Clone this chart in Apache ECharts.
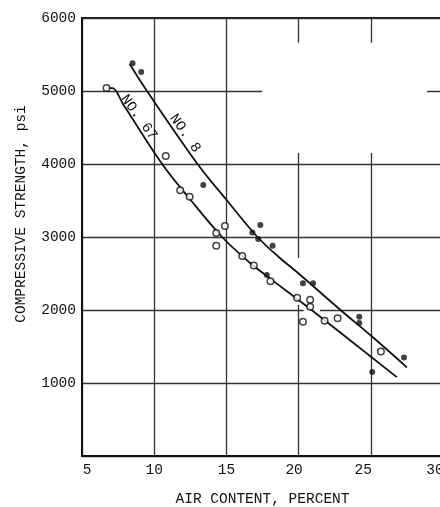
<!DOCTYPE html>
<html><head><meta charset="utf-8">
<script src="https://cdn.jsdelivr.net/npm/echarts@6/dist/echarts.min.js"></script>
<style>html,body{margin:0;padding:0;background:#fff}#c{width:440px;height:507px}</style>
</head><body><div id="c"></div>
<script>
// ---- data ----
const xTicks = [5, 10, 15, 20, 25, 30];
const yTicks = [0, 1000, 2000, 3000, 4000, 5000, 6000];
const xTitle = 'AIR CONTENT, PERCENT';
const yTitle = 'COMPRESSIVE STRENGTH, psi';
const curveNames = ['NO. 8', 'NO. 67'];

// open circles
const openX = [6.7, 10.8, 11.8, 12.45, 14.9, 14.3, 14.3, 16.1, 16.9, 18.05, 19.9, 20.8, 20.8, 20.3, 21.8, 22.7, 25.7];
const openY = [5040, 4110, 3640, 3550, 3150, 3055, 2880, 2740, 2610, 2395, 2168, 2140, 2045, 1840, 1852, 1888, 1430];
// filled dots
const filledX = [8.5, 9.1, 13.4, 17.35, 16.8, 17.2, 18.2, 17.8, 20.3, 21.0, 24.2, 24.2, 25.1, 27.3];
const filledY = [5380, 5260, 3714, 3166, 3062, 2972, 2880, 2480, 2368, 2368, 1908, 1822, 1152, 1348];

// fitted curves
const no8X = [8.3, 9.5, 13.0, 15.0, 17.15, 18.6, 20.0, 22.9, 25.0, 27.5];
const no8Y = [5370, 5000, 4000, 3510, 3000, 2730, 2500, 2000, 1650, 1215];
const no67X = [6.7, 7.1, 7.85, 10.55, 12.47, 14.7, 16.6, 17.9, 20.9, 26.8];
const no67Y = [5040, 5040, 4820, 4000, 3520, 3000, 2650, 2450, 2000, 1080];

const noteLines = ['COMPACTION', '-- 5 TAMP', '-- C 31', 'PERCENT SAND', '0, 10, 20'];

// ---- styling ----
const FONT = 'Liberation Mono';
const FS = 14.5;
const INK = '#111';
const GRIDC = '#333';

const zip = (a, b) => a.map((v, i) => [v, b[i]]);

const labelShift = {5: [0,0,0,10], 20: [0,9,0,0], 25: [0,15,0,0], 30: [0,16,0,0]};
const rich = {};
xTicks.forEach(v => {
  rich['t' + v] = {fontFamily: FONT, fontSize: FS, color: INK, padding: labelShift[v] || [0,0,0,0]};
});

const chart = echarts.init(document.getElementById('c'), null, {renderer: 'canvas'});

const noteX = [287, 296.5, 296.5, 287, 287];
const noteYs = [64.5, 79.3, 94, 123.3, 137.5];

chart.setOption({
  animation: false,
  backgroundColor: '#fff',
  grid: {left: 82, top: 18, width: 361, height: 438, containLabel: false, outerBoundsMode: 'none',
         show: true, borderColor: INK, borderWidth: 2, backgroundColor: 'transparent'},
  xAxis: {
    type: 'value', min: xTicks[0], max: xTicks[xTicks.length - 1], interval: 5,
    axisLine: {lineStyle: {color: INK, width: 2}},
    axisTick: {show: false},
    splitLine: {show: true, lineStyle: {color: GRIDC, width: 1.3}},
    axisLabel: {margin: 7, formatter: v => '{t' + v + '|' + v + '}', rich: rich, fontFamily: FONT, fontSize: FS, color: INK},
    name: xTitle, nameLocation: 'middle', nameGap: 36,
    nameTextStyle: {fontFamily: FONT, fontSize: FS, color: INK}
  },
  yAxis: {
    type: 'value', min: yTicks[0], max: yTicks[yTicks.length - 1], interval: 1000,
    axisLine: {lineStyle: {color: INK, width: 2}},
    axisTick: {show: false},
    splitLine: {show: true, lineStyle: {color: GRIDC, width: 1.3}},
    axisLabel: {margin: 6, showMinLabel: false, formatter: v => String(v), fontFamily: FONT, fontSize: FS, color: INK}
  },
  graphic: [
    {type: 'text', x: 21, y: 214, rotation: Math.PI / 2,
     style: {text: yTitle, fontFamily: FONT, fontSize: FS, fill: INK, align: 'center', verticalAlign: 'middle'}}
  ].concat(noteLines.map((t, i) => ({
    type: 'text', x: noteX[i], y: noteYs[i],
    style: {text: t, fontFamily: FONT, fontSize: FS, fill: INK, align: 'left', verticalAlign: 'middle'}
  }))),
  series: [
    {
      type: 'line', data: [], z: 1, silent: true,
      markArea: {
        silent: true,
        itemStyle: {color: '#fff', borderWidth: 0},
        data: [
          [{coord: [17.47, 5660]}, {coord: [28.9, 4150]}],
          [{coord: [19.85, 2712]}, {coord: [20.15, 2070]}],
          [{coord: [20.35, 1950]}, {coord: [21.48, 2050]}]
        ]
      }
    },
    {
      name: curveNames[0], type: 'line', data: zip(no8X, no8Y), smooth: 0.35, symbol: 'none', z: 3,
      lineStyle: {color: INK, width: 1.8},
      markPoint: {
        symbol: 'circle', symbolSize: 0, silent: true,
        label: {show: true, position: 'inside', formatter: curveNames[0], rotate: -55, fontFamily: FONT, fontSize: FS, color: INK},
        data: [{coord: [12.15, 4420]}]
      }
    },
    {
      name: curveNames[1], type: 'line', data: zip(no67X, no67Y), smooth: 0.35, symbol: 'none', z: 3,
      lineStyle: {color: INK, width: 1.8},
      markPoint: {
        symbol: 'circle', symbolSize: 0, silent: true,
        label: {show: true, position: 'inside', formatter: curveNames[1], rotate: -54, fontFamily: FONT, fontSize: FS, color: INK},
        data: [{coord: [8.94, 4640]}]
      }
    },
    {
      type: 'scatter', data: zip(openX, openY), symbol: 'circle', symbolSize: 6.5, z: 4,
      itemStyle: {color: '#fff', borderColor: INK, borderWidth: 1.5}
    },
    {
      type: 'scatter', data: zip(filledX, filledY), symbol: 'circle', symbolSize: 6, z: 4,
      itemStyle: {color: INK}
    }
  ]
});
</script>
</body></html>
